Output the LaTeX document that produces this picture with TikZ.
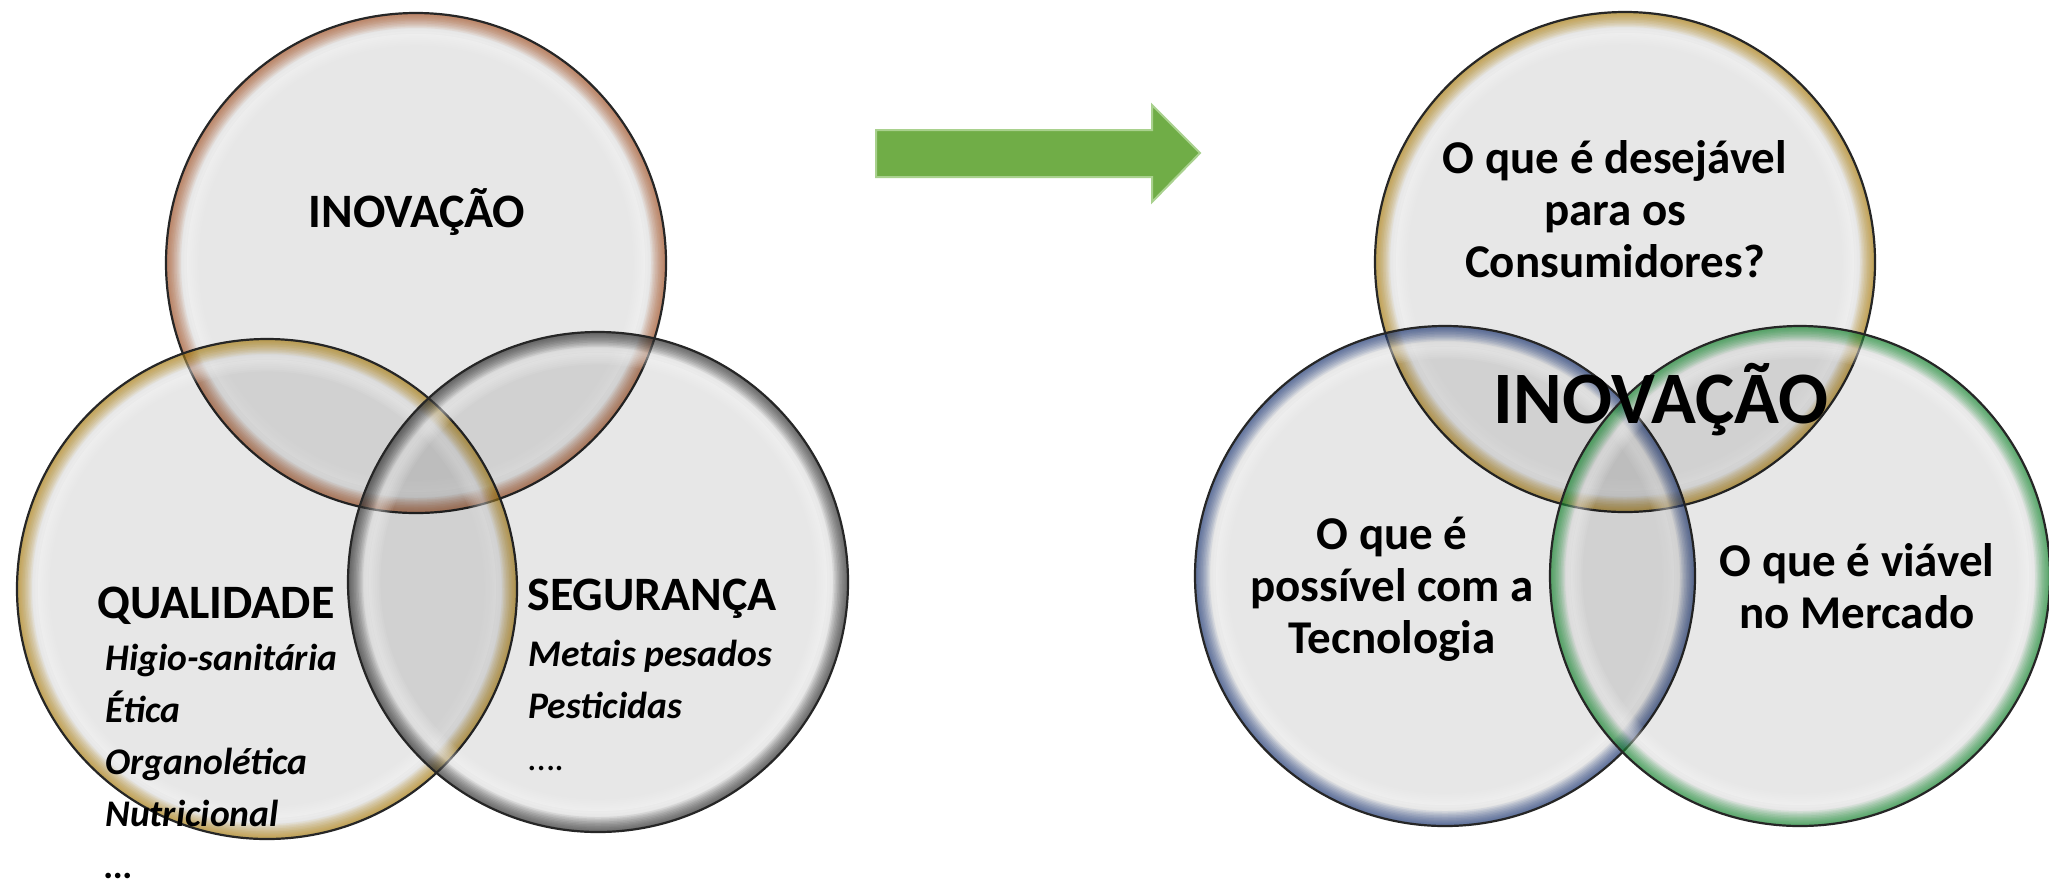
\documentclass[tikz,border=0pt]{standalone}
\usepackage{fontspec}
\setmainfont{Carlito}
\usepackage{tikz}
\usetikzlibrary{positioning}
\definecolor{ringcopper}{RGB}{190, 100, 50}
\definecolor{ringgold}{RGB}{200, 150, 25}
\definecolor{ringgray}{RGB}{60, 60, 60}
\definecolor{ringblue}{RGB}{40, 70, 140}
\definecolor{ringgreen}{RGB}{30, 160, 60}
\definecolor{arrowgreen}{RGB}{112, 173, 71}
\definecolor{arrowedge}{RGB}{169, 209, 142}

\begin{document}
\begin{tikzpicture}[x=0.5pt, y=-0.5pt,
  title/.style={font=\fontsize{24}{26}\selectfont\bfseries, inner sep=0pt},
  item/.style={font=\fontsize{18.8}{26}\selectfont\bfseries\itshape, inner sep=0pt, align=left},
  ask/.style={font=\fontsize{23.5}{26}\selectfont\bfseries, inner sep=0pt, align=center}
]
  \useasboundingbox (0,0) rectangle (2049,885);
  \fill[white] (0,0) rectangle (2049,885);

  % the six circles: centre x / centre y / ring colour
  \foreach \cx/\cy/\col in {416/263/ringcopper, 267/589/ringgold, 598/582/ringgray,
                            1625/262/ringgold, 1445/576/ringblue, 1800/576/ringgreen}{
    \fill[black, fill opacity=0.095] (\cx,\cy) circle (250);
    \begin{scope}
      \clip (\cx,\cy) circle (250);
      \foreach \k in {1,...,8}
        \draw[black, opacity=0.02, line width=\k*2.6pt] (\cx,\cy) circle (250);
      \foreach \k in {1,...,8}
        \draw[white, opacity=0.07, line width=\k*1.8pt] (\cx,\cy) circle (232);
      \foreach \k in {1,...,10}
        \draw[\col, opacity=0.085, line width=\k*1.5pt] (\cx,\cy) circle (250);
    \end{scope}
    \draw[black!85, line width=1.1pt] (\cx,\cy) circle (250);
  }

  % left diagram
  \node[title, anchor=base] (inovL) at (417,227) {INOVAÇÃO};
  \node[title, anchor=base west] (qual) at (97,618) {QUALIDADE};
  \node[item, anchor=base west] (qualitems) at (105,878)
    {Higio-sanitária\\Ética\\Organolética\\Nutricional\\…};
  \node[title, anchor=base west] (seg) at (527,610) {SEGURANÇA};
  \node[item, anchor=base west] (segitems) at (528,770)
    {Metais pesados\\Pesticidas\\{\normalfont\mdseries ….}};

  % arrow
  \draw[arrowedge, line width=1pt, fill=arrowgreen]
    (876,130) -- (1152,130) -- (1152,105) -- (1200,153) -- (1152,202) -- (1152,177) -- (876,177) -- cycle;

  % right diagram
  \node[ask, anchor=base] (desej) at (1615,277) {O que é desejável\\para os\\Consumidores?};
  \node[ask, anchor=base] (possiv) at (1392,653) {O que é\\possível com a\\Tecnologia};
  \node[ask, anchor=base] (viav) at (1857,628) {O que é viável\\no Mercado};
  \node[font=\fontsize{37}{40}\selectfont\bfseries, inner sep=0pt, anchor=base] (inovR) at (1661,423) {INOVAÇÃO};
\end{tikzpicture}
\end{document}
